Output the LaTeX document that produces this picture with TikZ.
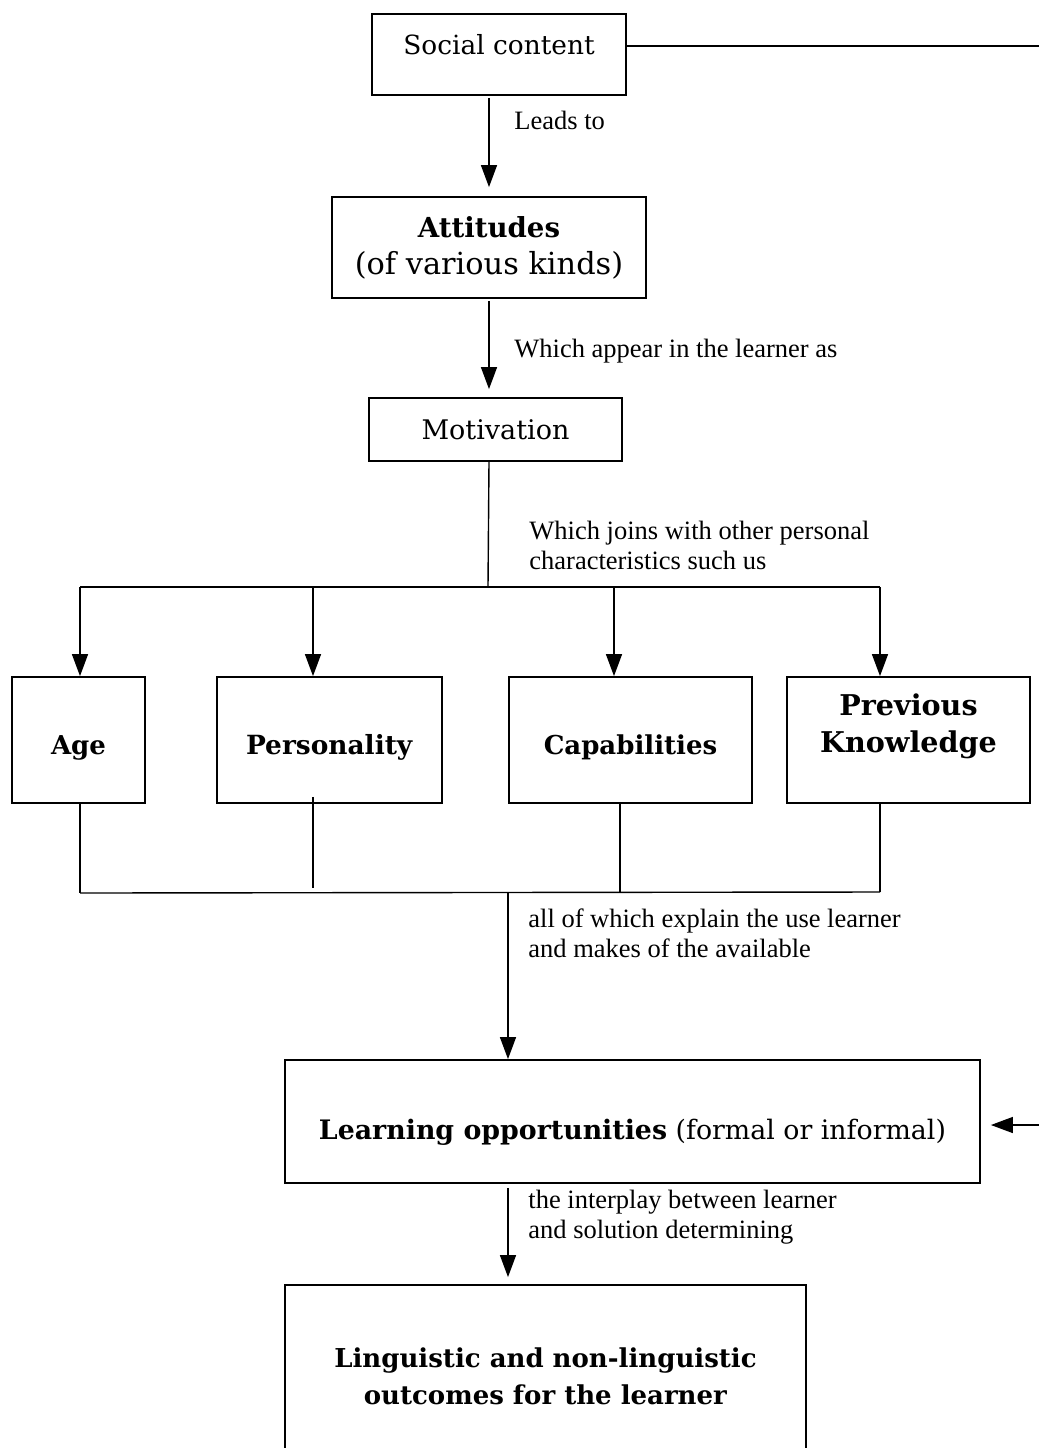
\documentclass[tikz,border=0pt]{standalone}
\usepackage{fontspec}
\setmainfont{Liberation Serif}
\newfontfamily\boxfont{DejaVu Serif}
\usetikzlibrary{arrows.meta,calc}

\newcommand{\bsize}[1]{\fontsize{#1}{18.5}\selectfont}

\tikzset{
  box/.style={draw, line width=0.9pt, inner sep=0pt, align=center,
    font=\boxfont\bsize{13}},
  trait/.style={box, minimum height=63pt, text height=38.75pt, text depth=24.25pt},
  lbl/.style={anchor=west, inner sep=0pt, align=left,
    font=\fontsize{13.25}{15}\selectfont},
  arr/.style={-{Triangle[length=11pt,width=8pt]}, line width=0.7pt},
  link/.style={line width=0.7pt}
}

\begin{document}
\begin{tikzpicture}[x=0.5pt, y=-0.5pt]
  \useasboundingbox (0,0) rectangle (1039,1448);
  \clip (0,0) rectangle (1039,1448);

  % boxes
  \node[box, minimum width=127pt, text height=20pt, text depth=20.5pt] (soc) at (499,54.5) {\bsize{13.2}Social content};
  \node[box, minimum width=157pt, minimum height=50.5pt] (att) at (489,247.5) {\bsize{13.8}\textbf{Attitudes}\\\bsize{15.2}(of various kinds)};
  \node[box, minimum width=126.5pt, minimum height=31.5pt] (mot) at (495.5,429.5) {\bsize{13.5}Motivation};
  \node[trait, minimum width=66.5pt] (age) at (78.5,740) {\textbf{Age}};
  \node[trait, minimum width=112.5pt] (per) at (329.5,740) {\bsize{13.2}\textbf{Personality}};
  \node[trait, minimum width=121.5pt] (cap) at (630.5,740) {\textbf{Capabilities}};
  \node[box, minimum width=121.5pt, minimum height=63pt, font=\boxfont\bsize{14.3}] (pk) at (908.5,740) {\textbf{Previous}\\\textbf{Knowledge}\rule[-17pt]{0pt}{17pt}};
  \node[box, minimum width=347.5pt, text height=39.75pt, text depth=21.75pt] (lrn) at (632.5,1121.5) {\bsize{13.4}\textbf{Learning opportunities} (formal or informal)};
  \node[box, minimum width=260.5pt, minimum height=91pt] (out) at (545.5,1376) {\textbf{Linguistic and non-linguistic}\\\textbf{outcomes for the learner}};

  % labels
  \node[lbl] (lead) at (514,120) {Leads to};
  \node[lbl] (appear) at (514,351) {Which appear in the learner as};
  \node[lbl] (joins) at (529,545) {Which joins with other personal\\characteristics such us};
  \node[lbl] (expl) at (528,933) {all of which explain the use learner\\and makes of the available};
  \node[lbl] (inter) at (528,1217) {the interplay between learner\\and solution determining};

  \coordinate (rimT) at (1039,46);
  \coordinate (rimB) at (1039,1125);
  \coordinate (fork) at (488,587);
  \coordinate (fA) at (80,587);
  \coordinate (fB) at (313,587);
  \coordinate (fC) at (614,587);
  \coordinate (fD) at (880,587);
  \coordinate (jA) at (80,893);
  \coordinate (jB) at (313,888);
  \coordinate (jC) at (620,892);
  \coordinate (jD) at (880,892);
  \coordinate (jM) at (508,893);

  % connectors
  \draw[link] (soc.east |- rimT) -- (rimT);
  \draw[arr, shorten <=1pt, shorten >=4.5pt] (att.north |- soc.south) -- (att.north);
  \draw[arr, shorten <=1pt, shorten >=4pt] (att.south) -- (att.south |- mot.north);
  \draw[link] (att.south |- mot.south) -- (fork);
  \draw[link] (fA) -- (fD);
  \foreach \f/\n in {fA/age, fB/per, fC/cap, fD/pk}
    \draw[arr] (\f) -- (\f |- \n.north);
  \draw[link] (jA |- age.south) -- (jA);
  \draw[link] ($(jB |- per.south)+(0,-7)$) -- (jB);
  \draw[link] ($(jC |- cap.south)+(0,-2)$) -- (jC);
  \draw[link] (jD |- pk.south) -- (jD);
  \draw[link] (jA) -- (jD);
  \draw[arr] (jM) -- (jM |- lrn.north);
  \draw[arr, shorten <=2pt, shorten >=3.5pt] (jM |- lrn.south) -- (jM |- out.north);
  \draw[arr, shorten >=5pt] (rimB) -- (lrn.east |- rimB);
\end{tikzpicture}
\end{document}
